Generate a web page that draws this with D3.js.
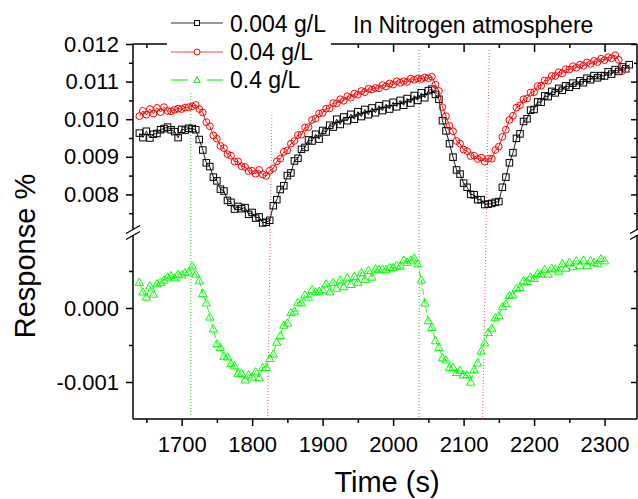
<!DOCTYPE html>
<html><head><meta charset="utf-8">
<script src="https://cdn.jsdelivr.net/npm/d3@7"></script>
<style>
html,body{margin:0;padding:0;background:#fff;}
svg{display:block;font-family:"Liberation Sans",Arial,sans-serif;}
</style></head>
<body>
<svg id="chart" width="638" height="499"></svg>
<script>
// ---- data ----
const times = [1640,1645,1650,1655,1660,1665,1670,1675,1680,1685,1690,1695,1700,1705,1710,1715,1720,1725,1730,1735,1740,1745,1750,1755,1760,1765,1770,1775,1780,1785,1790,1795,1800,1805,1810,1815,1820,1825,1830,1835,1840,1845,1850,1855,1860,1865,1870,1875,1880,1885,1890,1895,1900,1905,1910,1915,1920,1925,1930,1935,1940,1945,1950,1955,1960,1965,1970,1975,1980,1985,1990,1995,2000,2005,2010,2015,2020,2025,2030,2035,2040,2045,2050,2055,2060,2065,2070,2075,2080,2085,2090,2095,2100,2105,2110,2115,2120,2125,2130,2135,2140,2145,2150,2155,2160,2165,2170,2175,2180,2185,2190,2195,2200,2205,2210,2215,2220,2225,2230,2235,2240,2245,2250,2255,2260,2265,2270,2275,2280,2285,2290,2295,2300,2305,2310,2315,2320,2325,2330,2335];

const black004 = [.00963,.00951,.00968,.00950,.00960,.00962,.00972,.00975,.00979,.00972,.00967,.00951,.00973,.00971,.00976,.00975,.00972,.00946,.00918,.00884,.00874,.00846,.00836,.00814,.00809,.00784,.00779,.00761,.00768,.00762,.00765,.00747,.00752,.00737,.00740,.00724,.00726,.00731,.00770,.00786,.00813,.00823,.00850,.00857,.00889,.00896,.00920,.00925,.00945,.00942,.00960,.00947,.00970,.00966,.00984,.00979,.01000,.00986,.01006,.00996,.01013,.01000,.01020,.01007,.01026,.01012,.01030,.01017,.01036,.01023,.01040,.01027,.01045,.01033,.01050,.01037,.01055,.01043,.01063,.01050,.01070,.01057,.01076,.01080,.01066,.01053,.00996,.00969,.00935,.00899,.00865,.00854,.00830,.00819,.00800,.00799,.00786,.00786,.00773,.00774,.00776,.00779,.00781,.00819,.00846,.00884,.00911,.00949,.00961,.00994,.01001,.01024,.01026,.01046,.01045,.01062,.01060,.01074,.01070,.01082,.01077,.01089,.01085,.01096,.01090,.01102,.01097,.01109,.01105,.01116,.01110,.01116,.01115,.01126,.01120,.01132,.01127,.01139,.01134,.01145];

const red04 = [.01008,.01022,.01012,.01027,.01015,.01030,.01019,.01032,.01022,.01021,.01025,.01028,.01027,.01031,.01032,.01034,.01038,.01027,.01018,.00992,.00981,.00957,.00948,.00929,.00923,.00907,.00903,.00887,.00888,.00875,.00873,.00862,.00863,.00855,.00865,.00853,.00849,.00863,.00869,.00888,.00895,.00913,.00917,.00935,.00942,.00958,.00959,.00978,.00979,.00998,.01002,.01015,.01017,.01028,.01029,.01043,.01042,.01053,.01049,.01061,.01057,.01068,.01065,.01075,.01072,.01081,.01079,.01083,.01082,.01091,.01087,.01095,.01092,.01101,.01097,.01101,.01099,.01108,.01105,.01108,.01107,.01111,.01109,.01113,.01092,.01075,.01032,.01008,.00982,.00968,.00942,.00935,.00919,.00915,.00902,.00903,.00894,.00898,.00887,.00895,.00895,.00918,.00927,.00953,.00972,.00998,.01009,.01031,.01037,.01053,.01055,.01071,.01072,.01088,.01089,.01103,.01102,.01115,.01115,.01125,.01122,.01133,.01132,.01141,.01137,.01145,.01142,.01151,.01147,.01155,.01152,.01161,.01157,.01165,.01162,.01170,.01158,.01128];

const green4 = [.00035,.00022,.00015,.00030,.00019,.00033,.00035,.00038,.00042,.00044,.00041,.00046,.00045,.00048,.00049,.00057,.00046,.00037,.00020,.00007,-.00012,-.00028,-.00048,-.00053,-.00065,-.00066,-.00075,-.00078,-.00088,-.00088,-.00097,-.00090,-.00093,-.00086,-.00094,-.00080,-.00080,-.00068,-.00062,-.00046,-.00037,-.00023,-.00020,-.00006,-.00004,.00008,.00007,.00018,.00015,.00025,.00022,.00023,.00025,.00033,.00022,.00035,.00027,.00038,.00029,.00041,.00032,.00043,.00035,.00048,.00039,.00051,.00042,.00053,.00052,.00053,.00052,.00055,.00055,.00058,.00057,.00065,.00062,.00065,.00068,.00060,.00038,.00007,-.00017,-.00026,-.00044,-.00053,-.00067,-.00070,-.00080,-.00080,-.00087,-.00084,-.00090,-.00090,-.00100,-.00083,-.00074,-.00058,-.00047,-.00033,-.00027,-.00013,-.00010,.00002,.00006,.00017,.00018,.00027,.00028,.00037,.00036,.00042,.00040,.00047,.00046,.00052,.00046,.00054,.00053,.00050,.00060,.00054,.00062,.00056,.00064,.00058,.00065,.00058,.00064,.00062,.00060,.00067,.00064];

const seriesNames = ["0.004 g/L","0.04 g/L","0.4 g/L"];
const seriesColors = ["#000000","#ff0000","#00ff00"];

const xMajorTicks = [1700,1800,1900,2000,2100,2200,2300];
const xMinorTicks = [1650,1750,1850,1950,2050,2150,2250];
const xTickLabels = ["1700","1800","1900","2000","2100","2200","2300"];
const yUpperMajor = [0.008,0.009,0.010,0.011,0.012];
const yUpperLabels = ["0.008","0.009","0.010","0.011","0.012"];
const yUpperMinor = [0.0075,0.0085,0.0095,0.0105,0.0115];
const yLowerMajor = [-0.001,0.000];
const yLowerLabels = ["-0.001","0.000"];
const yLowerMinor = [-0.0005,0.0005];

// dotted reference lines (time at top, time at bottom, top value on upper axis)
const refTimeTop = [1713,1828,2037,2136.5];
const refTimeBottom = [1713,1822,2037,2127];
const refTopValue = [0.0107,0.01011,0.01184,0.01184];
const refColors = ["#33bb33","#ff5a5a","#33bb33","#ff5a5a"];

const xTitle = "Time (s)";
const yTitle = "Response %";
const noteText = "In Nitrogen atmosphere";

// ---- layout ----
const L = 133, R = 637, T = 44, B = 419;
const x = d3.scaleLinear().domain([1631, 2346]).range([L, R]);
const yU = d3.scaleLinear().domain([0.007, 0.012]).range([232, T]);
const yL = d3.scaleLinear().domain([-0.0015, 0.001]).range([B, 234]);
const breakA = 229.5, breakB = 235.5;

const svg = d3.select("#chart");
const g = svg.append("g");

// reference dotted lines
refTimeTop.forEach((t, i) => {
  g.append("line")
    .attr("x1", x(t)).attr("y1", yU(refTopValue[i]))
    .attr("x2", x(refTimeBottom[i])).attr("y2", B - 2)
    .attr("stroke", refColors[i]).attr("stroke-width", 1)
    .attr("stroke-dasharray", "1,2");
});

function mkData(vals){ return vals.map((v,i)=>({t:times[i], v})); }
const dBlack = mkData(black004), dRed = mkData(red04), dGreen = mkData(green4);

// lines
g.append("path").datum(dBlack)
  .attr("d", d3.line().x(d=>x(d.t)).y(d=>yU(d.v)))
  .attr("fill","none").attr("stroke","#000").attr("stroke-width",0.9);
g.append("path").datum(dRed)
  .attr("d", d3.line().x(d=>x(d.t)).y(d=>yU(d.v)))
  .attr("fill","none").attr("stroke","#ff0000").attr("stroke-width",0.9);
g.append("path").datum(dGreen)
  .attr("d", d3.line().x(d=>x(d.t)).y(d=>yL(d.v)))
  .attr("fill","none").attr("stroke","#00ff00").attr("stroke-width",0.9)
  .attr("stroke-dasharray","6,3");

// markers
const sq = 6.5;
g.selectAll("rect.sq").data(dBlack).enter().append("rect")
  .attr("x", d=>x(d.t)-sq/2).attr("y", d=>yU(d.v)-sq/2)
  .attr("width", sq).attr("height", sq)
  .attr("fill","none").attr("stroke","#000").attr("stroke-width",1);
g.selectAll("circle.c").data(dRed).enter().append("circle")
  .attr("cx", d=>x(d.t)).attr("cy", d=>yU(d.v)).attr("r", 3.4)
  .attr("fill","none").attr("stroke","#ff0000").attr("stroke-width",1);
const tri = d3.symbol().type(d3.symbolTriangle).size(30);
g.selectAll("path.tri").data(dGreen).enter().append("path")
  .attr("d", tri)
  .attr("transform", d=>`translate(${x(d.t)},${yL(d.v)+0.8})`)
  .attr("fill","none").attr("stroke","#00ff00").attr("stroke-width",1);

// ---- axes ----
const axisColor = "#000";
const fmtSize = "22px";
function styleAxis(sel){
  sel.select(".domain").remove();
  sel.selectAll("line").attr("stroke", axisColor).attr("stroke-width", 1.5);
  sel.selectAll("text").attr("font-size", fmtSize).attr("fill","#000")
     .attr("font-family","Liberation Sans, Arial, sans-serif");
}

// bottom
const bx = svg.append("g").attr("transform",`translate(0,${B})`)
  .call(d3.axisBottom(x).tickValues(xMajorTicks).tickSize(7).tickPadding(10)
        .tickFormat((d,i)=>xTickLabels[i]));
styleAxis(bx);
const bxm = svg.append("g").attr("transform",`translate(0,${B})`)
  .call(d3.axisBottom(x).tickValues(xMinorTicks).tickSize(4).tickFormat(""));
styleAxis(bxm);

// top (inward)
const tx = svg.append("g").attr("transform",`translate(0,${T})`)
  .call(d3.axisTop(x).tickValues(xMajorTicks).tickSize(-8).tickFormat(""));
styleAxis(tx);
const txm = svg.append("g").attr("transform",`translate(0,${T})`)
  .call(d3.axisTop(x).tickValues(xMinorTicks).tickSize(-4).tickFormat(""));
styleAxis(txm);

// left
const lu = svg.append("g").attr("transform",`translate(${L},0)`)
  .call(d3.axisLeft(yU).tickValues(yUpperMajor).tickSize(7).tickPadding(7)
        .tickFormat((d,i)=>yUpperLabels[i]));
styleAxis(lu);
const lum = svg.append("g").attr("transform",`translate(${L},0)`)
  .call(d3.axisLeft(yU).tickValues(yUpperMinor).tickSize(4).tickFormat(""));
styleAxis(lum);
const ll = svg.append("g").attr("transform",`translate(${L},0)`)
  .call(d3.axisLeft(yL).tickValues(yLowerMajor).tickSize(7).tickPadding(7)
        .tickFormat((d,i)=>yLowerLabels[i]));
styleAxis(ll);
const llm = svg.append("g").attr("transform",`translate(${L},0)`)
  .call(d3.axisLeft(yL).tickValues(yLowerMinor).tickSize(4).tickFormat(""));
styleAxis(llm);

// right (inward)
[[yU,yUpperMajor,-6],[yU,yUpperMinor,-3],[yL,yLowerMajor,-6],[yL,yLowerMinor,-3]].forEach(([sc,tv,sz])=>{
  const a = svg.append("g").attr("transform",`translate(${R},0)`)
    .call(d3.axisRight(sc).tickValues(tv).tickSize(sz).tickFormat(""));
  styleAxis(a);
});

// axis lines
const lines = svg.append("g").attr("stroke","#000").attr("stroke-width",1.5).attr("fill","none");
lines.append("line").attr("x1",L).attr("x2",R).attr("y1",B).attr("y2",B);
lines.append("line").attr("x1",L).attr("x2",R).attr("y1",T).attr("y2",T);
[L,R].forEach(xx=>{
  lines.append("line").attr("x1",xx).attr("x2",xx).attr("y1",T).attr("y2",breakA);
  lines.append("line").attr("x1",xx).attr("x2",xx).attr("y1",breakB).attr("y2",B);
  [breakA, breakB].forEach(yy=>{
    lines.append("line").attr("x1",xx-7).attr("y1",yy+4).attr("x2",xx+7).attr("y2",yy-4)
      .attr("stroke-width",1.3);
  });
});

// legend (white box covering top axis)
const leg = svg.append("g");
leg.append("rect").attr("x",167).attr("y",0).attr("width",164).attr("height",92).attr("fill","#fff");
const legY = [23, 52, 80];
const legTextY = [32, 60, 88];
// black
leg.append("line").attr("x1",171).attr("x2",223).attr("y1",legY[0]).attr("y2",legY[0]).attr("stroke","#333").attr("stroke-width",1);
leg.append("rect").attr("x",197-2.5).attr("y",legY[0]-2.5).attr("width",5).attr("height",5).attr("fill","#fff").attr("stroke","#000").attr("stroke-width",1);
// red
leg.append("line").attr("x1",171).attr("x2",223).attr("y1",legY[1]).attr("y2",legY[1]).attr("stroke","#ff4040").attr("stroke-width",1);
leg.append("circle").attr("cx",197).attr("cy",legY[1]).attr("r",3).attr("fill","#fff").attr("stroke","#ff0000").attr("stroke-width",1);
// green dashed
leg.append("line").attr("x1",171).attr("x2",188).attr("y1",legY[2]).attr("y2",legY[2]).attr("stroke","#00ee00").attr("stroke-width",1);
leg.append("line").attr("x1",207).attr("x2",223).attr("y1",legY[2]).attr("y2",legY[2]).attr("stroke","#00ee00").attr("stroke-width",1);
leg.append("path").attr("d", d3.symbol().type(d3.symbolTriangle).size(18))
  .attr("transform",`translate(197,${legY[2]+0.5})`).attr("fill","none").attr("stroke","#00dd00").attr("stroke-width",1);
seriesNames.forEach((n,i)=>{
  leg.append("text").attr("x",230).attr("y",legTextY[i]).attr("font-size","23px").attr("fill","#000").text(n);
});

// note
svg.append("text").attr("x",353).attr("y",33).attr("font-size","23px").attr("fill","#000").text(noteText);

// titles
svg.append("text").attr("x",(L+R)/2+2).attr("y",492).attr("text-anchor","middle")
  .attr("font-size","29px").attr("fill","#000").text(xTitle);
svg.append("text").attr("transform","translate(35,256) rotate(-90)").attr("text-anchor","middle")
  .attr("font-size","29px").attr("fill","#000").text(yTitle);
</script>
</body></html>
